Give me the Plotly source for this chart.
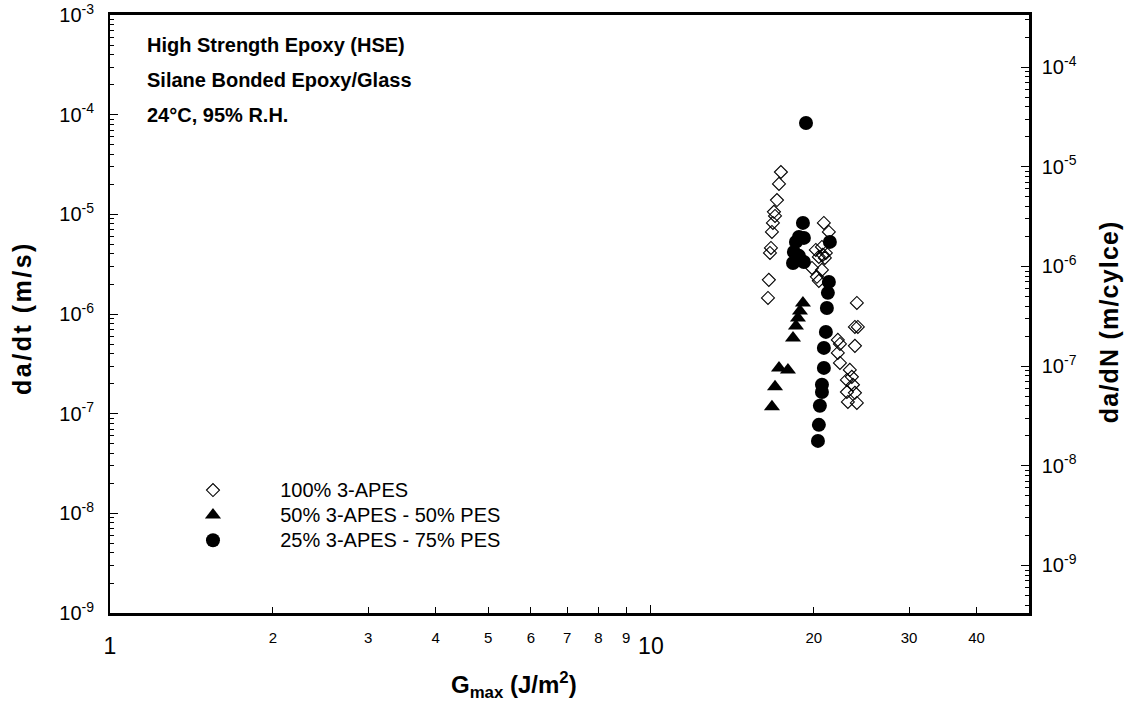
import math
import plotly.graph_objects as go

# ---------------- data ----------------
apes100_g = [17.39, 17.25, 17.10, 16.88, 16.96, 16.81, 16.74, 16.67, 16.60, 16.52, 16.46,
             20.88, 21.33, 20.18, 20.71, 20.79, 21.06, 20.44, 20.97, 19.85, 20.71, 20.27, 20.44,
             24.03, 23.83, 24.13, 22.16, 22.36, 23.83, 22.16, 22.36, 23.32, 23.52, 23.03, 23.63,
             23.03, 23.83, 23.13, 24.03]
apes100_rate = [2.66e-5, 2.02e-5, 1.39e-5, 1.06e-5, 9.64e-6, 8.2e-6, 6.66e-6, 4.6e-6, 4.1e-6, 2.2e-6, 1.45e-6,
                8.2e-6, 6.66e-6, 4.39e-6, 4.71e-6, 3.92e-6, 4.1e-6, 3.74e-6, 3.65e-6, 2.9e-6, 2.77e-6, 2.36e-6, 2.15e-6,
                1.29e-6, 7.42e-7, 7.42e-7, 5.5e-7, 5.01e-7, 4.79e-7, 4.07e-7, 3.23e-7, 2.75e-7, 2.34e-7, 2.18e-7, 1.95e-7,
                1.65e-7, 1.62e-7, 1.31e-7, 1.28e-7]

apes50_g = [19.10, 18.86, 18.70, 18.54, 18.31, 17.25, 17.92, 16.96, 16.74]
apes50_rate = [1.29e-6, 1.07e-6, 9.14e-7, 7.6e-7, 5.76e-7, 2.88e-7, 2.75e-7, 1.86e-7, 1.17e-7]

apes25_g = [19.35, 19.10, 18.78, 18.54, 19.18, 18.38, 18.78, 18.31, 19.18,
            21.42, 21.33, 21.24, 21.15, 21.06, 20.88, 20.88, 20.71, 20.71, 20.53, 20.44, 20.36]
apes25_rate = [8.25e-5, 8.2e-6, 5.93e-6, 5.29e-6, 5.8e-6, 4.2e-6, 3.83e-6, 3.25e-6, 3.33e-6,
               5.29e-6, 2.1e-6, 1.63e-6, 1.15e-6, 6.61e-7, 4.57e-7, 2.88e-7, 1.95e-7, 1.65e-7, 1.2e-7, 7.72e-8, 5.33e-8]

series_names = ["100% 3-APES", "50% 3-APES - 50% PES", "25% 3-APES - 75% PES"]
info_lines = ["High Strength Epoxy (HSE)", "Silane Bonded Epoxy/Glass", "24°C, 95% R.H."]

x_small_ticks = [2, 3, 4, 5, 6, 7, 8, 9, 20, 30, 40]
x_small_text = ["2", "3", "4", "5", "6", "7", "8", "9", "20", "30", "40"]
x_big_ticks = [1, 10]
x_big_text = ["1", "10"]
y_left_exp = [-3, -4, -5, -6, -7, -8, -9]
y_right_exp = [-4, -5, -6, -7, -8, -9]
cycle_factor = 3.0   # da/dN = (da/dt) / 3

X_MAX = 50.0
FONT = "Liberation Sans, Arial, Helvetica, sans-serif"

def minor_vals(lo, hi):
    vals = []
    for e in range(lo, hi + 1):
        for k in range(2, 10):
            vals.append(k * 10.0 ** e)
    return vals

def legend_label(s):
    return "\u00a0" * 10 + '<span style="font-size:20px">%s</span>' % s

fig = go.Figure()
fig.add_trace(go.Scatter(
    x=apes100_g, y=apes100_rate, mode="markers", name=legend_label(series_names[0]),
    marker=dict(symbol="diamond-open", size=10, color="black", line=dict(width=1.1, color="black"))))
fig.add_trace(go.Scatter(
    x=apes50_g, y=apes50_rate, mode="markers", name=legend_label(series_names[1]),
    marker=dict(symbol="triangle-up", size=14, color="black", line=dict(width=0))))
fig.add_trace(go.Scatter(
    x=apes25_g, y=apes25_rate, mode="markers", name=legend_label(series_names[2]),
    marker=dict(symbol="circle", size=14, color="black", line=dict(width=0))))
# empty traces to activate the secondary axes
fig.add_trace(go.Scatter(x=[], y=[], yaxis="y2", showlegend=False, hoverinfo="skip"))
fig.add_trace(go.Scatter(x=[], y=[], xaxis="x2", showlegend=False, hoverinfo="skip"))

fig.update_layout(
    width=1128, height=701,
    margin=dict(l=110, r=99, t=15, b=88, autoexpand=False),
    paper_bgcolor="white", plot_bgcolor="white",
    font=dict(family=FONT, color="black"),
    showlegend=True,
    legend=dict(x=0.0903, y=0.235, xanchor="left", yanchor="top",
                font=dict(size=17, family=FONT, color="black"),
                bgcolor="rgba(0,0,0,0)", borderwidth=0, tracegroupgap=0,
                itemsizing="trace"),
    xaxis=dict(type="log", range=[0, math.log10(X_MAX)], automargin=False,
               tickmode="array", tickvals=x_small_ticks, ticktext=x_small_text,
               tickfont=dict(size=15, family=FONT), ticklabelstandoff=9,
               ticks="inside", ticklen=6, tickwidth=1, tickcolor="black",
               showline=True, linewidth=2.5, linecolor="black", mirror=True,
               showgrid=False, zeroline=False),
    xaxis2=dict(type="log", range=[0, math.log10(X_MAX)], overlaying="x", side="bottom",
                automargin=False,
                tickmode="array", tickvals=x_big_ticks, ticktext=x_big_text,
                tickfont=dict(size=23, family=FONT), ticklabelstandoff=17,
                ticks="inside", ticklen=8, tickwidth=1, tickcolor="black",
                showline=False, showgrid=False, zeroline=False),
    yaxis=dict(type="log", range=[-9, -3], automargin=False, ticklabeloverflow="allow",
               tickmode="array", tickvals=[10.0 ** e for e in y_left_exp],
               ticktext=["10<sup>%d</sup>" % e for e in y_left_exp],
               tickfont=dict(size=20, family=FONT), ticklabelstandoff=10,
               ticks="inside", ticklen=8, tickwidth=1, tickcolor="black",
               minor=dict(tickmode="array", tickvals=minor_vals(-9, -4),
                          ticks="inside", ticklen=4, tickwidth=1, tickcolor="black"),
               showline=True, linewidth=2, linecolor="black",
               showgrid=False, zeroline=False),
    yaxis2=dict(type="log", overlaying="y", side="right", automargin=False,
                range=[math.log10(1e-9 / cycle_factor), math.log10(1e-3 / cycle_factor)],
                tickmode="array", tickvals=[10.0 ** e for e in y_right_exp],
                ticktext=["10<sup>%d</sup>" % e for e in y_right_exp],
                tickfont=dict(size=20, family=FONT), ticklabelstandoff=6,
                ticks="inside", ticklen=8, tickwidth=1, tickcolor="black",
                minor=dict(tickmode="array", tickvals=minor_vals(-10, -4),
                           ticks="inside", ticklen=4, tickwidth=1, tickcolor="black"),
                showline=True, linewidth=2.5, linecolor="black",
                showgrid=False, zeroline=False),
)

annotations = []
for i, line in enumerate(info_lines):
    annotations.append(dict(text="<b>%s</b>" % line, xref="paper", yref="paper",
                            x=0.038, y=0.9498 - i * 0.0585, xanchor="left", yanchor="middle",
                            showarrow=False, font=dict(size=20, family=FONT, color="black")))
annotations.append(dict(text='<b><span style="letter-spacing:2.5px">da/dt (m/s)</span></b>',
                        xref="paper", yref="paper",
                        x=-0.0958, y=0.4933, textangle=-90, xanchor="center", yanchor="middle",
                        showarrow=False, font=dict(size=25, family=FONT, color="black")))
annotations.append(dict(text='<b><span style="letter-spacing:1.2px">da/dN (m/cylce)</span></b>',
                        xref="paper", yref="paper",
                        x=1.0870, y=0.488, textangle=-90, xanchor="center", yanchor="middle",
                        showarrow=False, font=dict(size=25, family=FONT, color="black")))
annotations.append(dict(text="<b>G<sub>max</sub> (J/m<sup>2</sup>)</b>", xref="paper", yref="paper",
                        x=0.4396, y=-0.1204, xanchor="center", yanchor="middle",
                        showarrow=False, font=dict(size=24, family=FONT, color="black")))
fig.update_layout(annotations=annotations)

fig.write_html("out.html", config={"displayModeBar": False},
               post_script="document.body.style.margin='0';")
